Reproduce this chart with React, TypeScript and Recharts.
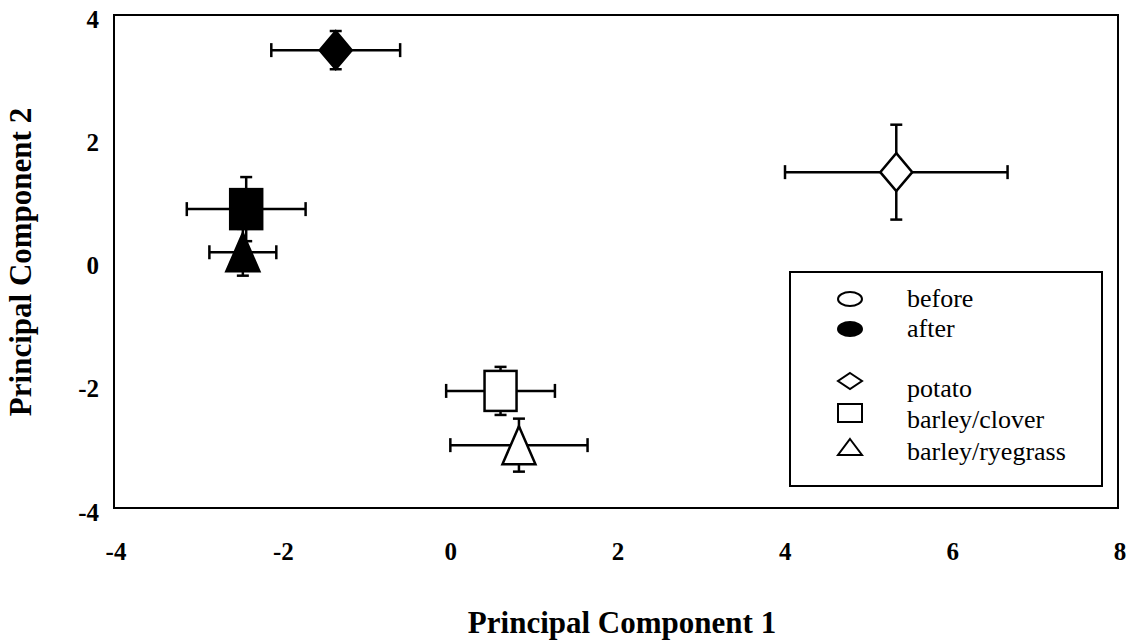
import { ScatterChart, Scatter, XAxis, YAxis, ErrorBar, ReferenceArea, Label } from "recharts";

const crops = ["potato", "barley/clover", "barley/ryegrass"];
const markers = ["diamond", "square", "triangle"];
const stages = ["before", "after"];

const pc1Before = [5.35, 0.62, 0.84];
const pc2Before = [1.45, -2.1, -2.98];
const pc1ErrBefore = [1.33, 0.65, 0.82];
const pc2ErrBefore = [0.77, 0.39, 0.43];

const pc1After = [-1.35, -2.42, -2.46];
const pc2After = [3.43, 0.85, 0.15];
const pc1ErrAfter = [0.77, 0.71, 0.4];
const pc2ErrAfter = [0.31, 0.52, 0.38];

const xTicks = [-4, -2, 0, 2, 4, 6, 8];
const yTicks = [-4, -2, 0, 2, 4];

const FONT = '"Liberation Serif", "Times New Roman", serif';

function Marker({ cx, cy, kind, filled }: { cx: number; cy: number; kind: string; filled: boolean }) {
  const fill = filled ? "#000" : "#fff";
  const sw = 2.5;
  if (kind === "diamond") {
    const w = 16, h = 19;
    return <polygon points={`${cx},${cy - h} ${cx + w},${cy} ${cx},${cy + h} ${cx - w},${cy}`} fill={fill} stroke="#000" strokeWidth={sw} />;
  }
  if (kind === "square") {
    return <rect x={cx - 16} y={cy - 20} width={32} height={40} fill={fill} stroke="#000" strokeWidth={sw} />;
  }
  return <polygon points={`${cx},${cy - 19} ${cx + 16.5},${cy + 19} ${cx - 16.5},${cy + 19}`} fill={fill} stroke="#000" strokeWidth={sw} />;
}

const series = crops.flatMap((crop, i) => [
  {
    key: `${crop}-${stages[0]}`,
    kind: markers[i],
    filled: false,
    data: [{ x: pc1Before[i], y: pc2Before[i], ex: pc1ErrBefore[i], ey: pc2ErrBefore[i] }],
  },
  {
    key: `${crop}-${stages[1]}`,
    kind: markers[i],
    filled: true,
    data: [{ x: pc1After[i], y: pc2After[i], ex: pc1ErrAfter[i], ey: pc2ErrAfter[i] }],
  },
]);

const XTick = ({ x, y, payload }: any) => (
  <text x={x + 2} y={y + 35} textAnchor="middle" dominantBaseline="central" fontFamily={FONT} fontWeight="bold" fontSize={25} fill="#000">
    {payload.value}
  </text>
);

const YTick = ({ y, payload }: any) => (
  <text x={99} y={y + 4} textAnchor="end" dominantBaseline="central" fontFamily={FONT} fontWeight="bold" fontSize={25} fill="#000">
    {payload.value}
  </text>
);

// legend drawn separately so it doesn't shrink the plot area
const LegendBox = () => {
  const sx = 61;
  const tx = 118;
  const txt = { fontFamily: FONT, fontSize: 26, fill: "#000" };
  return (
    <svg width={314} height={216} style={{ display: "block" }}>
      <rect x={1} y={1} width={312} height={214} fill="#fff" stroke="#000" strokeWidth={2} />
      <ellipse cx={sx} cy={28} rx={12} ry={7} fill="#fff" stroke="#000" strokeWidth={2} />
      <text x={tx} y={36} {...txt}>{stages[0]}</text>
      <ellipse cx={sx} cy={58} rx={12} ry={7} fill="#000" stroke="#000" strokeWidth={2} />
      <text x={tx} y={66} {...txt}>{stages[1]}</text>
      <polygon points={`${sx},${102} ${sx + 12},${110} ${sx},${118} ${sx - 12},${110}`} fill="#fff" stroke="#000" strokeWidth={2} />
      <text x={tx} y={126} {...txt}>{crops[0]}</text>
      <rect x={sx - 12} y={133} width={24} height={18} fill="#fff" stroke="#000" strokeWidth={2} />
      <text x={tx} y={157} {...txt}>{crops[1]}</text>
      <polygon points={`${sx},${168} ${sx + 12},${184} ${sx - 12},${184}`} fill="#fff" stroke="#000" strokeWidth={2} />
      <text x={tx} y={189} {...txt}>{crops[2]}</text>
    </svg>
  );
};

export default function App() {
  return (
    <div style={{ position: "absolute", left: 0, top: 0, width: 1134, height: 641, background: "#fff" }}>
      <ScatterChart width={1134} height={641} margin={{ top: 15, right: 16, left: 0, bottom: 0 }}>
        <XAxis
          type="number"
          dataKey="x"
          domain={[-4, 8]}
          ticks={xTicks}
          tick={<XTick />}
          tickLine={false}
          axisLine={false}
          height={133}
          interval={0}
        >
          <Label
            content={() => (
              <text x={622} y={633} textAnchor="middle" fontFamily={FONT} fontWeight="bold" fontSize={31} fill="#000">
                Principal Component 1
              </text>
            )}
          />
        </XAxis>
        <YAxis
          type="number"
          dataKey="y"
          domain={[-4, 4]}
          ticks={yTicks}
          tick={<YTick />}
          tickLine={false}
          axisLine={false}
          width={114}
          interval={0}
        >
          <Label
            content={() => (
              <text
                x={20}
                y={262}
                transform="rotate(-90 20 262)"
                textAnchor="middle"
                dominantBaseline="central"
                fontFamily={FONT}
                fontWeight="bold"
                fontSize={31}
                fill="#000"
              >
                Principal Component 2
              </text>
            )}
          />
        </YAxis>
        <ReferenceArea x1={-4} x2={8} y1={-4} y2={4} fill="none" stroke="#000" strokeWidth={2} />
        {series.map((s) => (
          <Scatter
            key={s.key}
            name={s.key}
            data={s.data}
            isAnimationActive={false}
            shape={(p: any) => <Marker cx={p.cx} cy={p.cy} kind={s.kind} filled={s.filled} />}
          >
            <ErrorBar dataKey="ex" direction="x" width={7} stroke="#000" strokeWidth={2.5} isAnimationActive={false} />
            <ErrorBar dataKey="ey" direction="y" width={6} stroke="#000" strokeWidth={2.5} isAnimationActive={false} />
          </Scatter>
        ))}
      </ScatterChart>
      <div style={{ position: "absolute", left: 789, top: 271 }}>
        <LegendBox />
      </div>
    </div>
  );
}
